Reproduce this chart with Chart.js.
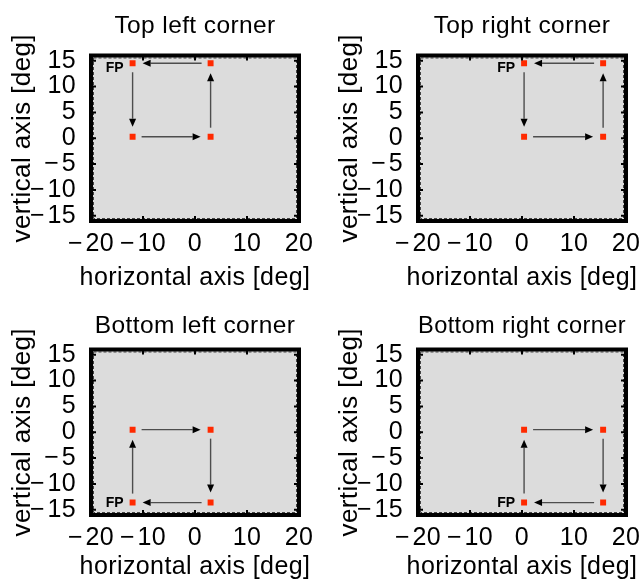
<!DOCTYPE html>
<html>
<head>
<meta charset="utf-8">
<script src="https://cdn.jsdelivr.net/npm/chart.js@4.4.1/dist/chart.umd.min.js"></script>
<style>
  html, body { margin: 0; padding: 0; background: #fff; }
  #wrap { position: relative; width: 642px; height: 583px; overflow: hidden; }
  #wrap canvas { position: absolute; }
</style>
</head>
<body>
<div id="wrap">
  <canvas id="c0" width="315" height="294" style="left:0;top:0"></canvas>
  <canvas id="c1" width="315" height="294" style="left:327px;top:0"></canvas>
  <canvas id="c2" width="315" height="289" style="left:0;top:294px"></canvas>
  <canvas id="c3" width="315" height="289" style="left:327px;top:294px"></canvas>
</div>
<script>
(function () {
    "use strict";

    var xTicks = [-20, -10, 0, 10, 20];
    var yTicks = [-15, -10, -5, 0, 5, 10, 15];
    var titles = ["Top left corner", "Top right corner", "Bottom left corner", "Bottom right corner"];
    var xTitle = "horizontal axis [deg]";
    var yTitle = "vertical axis [deg]";

    // target positions per panel, FP first, then in the order the arrows walk
    var topLeftX = [-12, -12, 3, 3];
    var topLeftY = [14.5, 0.3, 0.3, 14.5];
    var topRightX = [0.4, 0.4, 15.6, 15.6];
    var topRightY = [14.5, 0.3, 0.3, 14.5];
    var bottomLeftX = [-12, -12, 3, 3];
    var bottomLeftY = [-13.6, 0.5, 0.5, -13.6];
    var bottomRightX = [0.4, 0.4, 15.6, 15.6];
    var bottomRightY = [-13.6, 0.5, 0.5, -13.6];

    var FONT = "'Liberation Sans', Arial, Helvetica, sans-serif";

    function minusLabel(v) {
        return v < 0 ? "\u2212\u200a" + Math.abs(v) : String(v);
    }

    function drawArrow(ctx, x0, y0, x1, y1) {
        var dx = x1 - x0, dy = y1 - y0;
        var len = Math.sqrt(dx * dx + dy * dy);
        var ux = dx / len, uy = dy / len;
        var sx = x0 + ux * 9, sy = y0 + uy * 9;
        var tx = x1 - ux * 10, ty = y1 - uy * 10;
        var bx = tx - ux * 8, by = ty - uy * 8;
        ctx.strokeStyle = "#4d4d4d";
        ctx.lineWidth = 1.4;
        ctx.beginPath();
        ctx.moveTo(sx, sy);
        ctx.lineTo(bx, by);
        ctx.stroke();
        ctx.fillStyle = "#000";
        ctx.beginPath();
        ctx.moveTo(tx, ty);
        ctx.lineTo(bx - uy * 3.5, by + ux * 3.5);
        ctx.lineTo(bx + uy * 3.5, by - ux * 3.5);
        ctx.closePath();
        ctx.fill();
    }

    // gray plot area, heavy frame with inward ticks, arrows, FP tag and x title
    var panelPlugin = {
        id: "panel",
        beforeDraw: function (chart) {
            var ctx = chart.ctx, a = chart.chartArea;
            ctx.letterSpacing = "0.4px";
            ctx.save();
            ctx.fillStyle = "#dcdcdc";
            ctx.fillRect(a.left, a.top, a.right - a.left, a.bottom - a.top);
            ctx.restore();
        },
        afterDraw: function (chart, args, opts) {
            var ctx = chart.ctx, a = chart.chartArea;
            var sx = chart.scales.x, sy = chart.scales.y;
            var pts = chart.data.datasets[0].data;
            ctx.save();

            // x axis title, wider than the plot so it is drawn here unclipped
            ctx.fillStyle = "#000";
            ctx.font = "25px " + FONT;
            ctx.textAlign = "center";
            ctx.textBaseline = "middle";
            ctx.fillText(xTitle, (a.left + a.right) / 2, chart.height - 15.6);

            ctx.letterSpacing = "0px";

            // dashed inner line
            ctx.strokeStyle = "#444";
            ctx.lineWidth = 1;
            ctx.setLineDash([3, 2]);
            ctx.strokeRect(a.left + 2.5, a.top + 2.5, a.right - a.left - 5, a.bottom - a.top - 5);
            ctx.setLineDash([]);

            // inward tick marks on all four sides
            ctx.strokeStyle = "#000";
            ctx.lineWidth = 2;
            ctx.beginPath();
            xTicks.forEach(function (v) {
                var px = sx.getPixelForValue(v);
                ctx.moveTo(px, a.bottom); ctx.lineTo(px, a.bottom - 5);
                ctx.moveTo(px, a.top); ctx.lineTo(px, a.top + 5);
            });
            yTicks.forEach(function (v) {
                var py = sy.getPixelForValue(v);
                ctx.moveTo(a.left, py); ctx.lineTo(a.left + 5, py);
                ctx.moveTo(a.right, py); ctx.lineTo(a.right - 5, py);
            });
            ctx.stroke();

            // frame
            ctx.lineWidth = 4;
            ctx.strokeRect(a.left, a.top, a.right - a.left, a.bottom - a.top);

            // arrows between consecutive targets, back to FP at the end
            for (var i = 0; i < pts.length; i++) {
                var p = pts[i], q = pts[(i + 1) % pts.length];
                drawArrow(ctx,
                    sx.getPixelForValue(p.x), sy.getPixelForValue(p.y),
                    sx.getPixelForValue(q.x), sy.getPixelForValue(q.y));
            }

            // FP label next to the first target
            ctx.fillStyle = "#000";
            ctx.font = "bold 14px " + FONT;
            ctx.textAlign = "right";
            ctx.textBaseline = "middle";
            ctx.fillText("FP", sx.getPixelForValue(pts[0].x) - 9, sy.getPixelForValue(pts[0].y) + opts.fpDy);
            ctx.restore();
        }
    };

    function makePanel(id, title, xs, ys, extra) {
        var canvas = document.getElementById(id);
        var H = canvas.height;
        var points = xs.map(function (x, i) { return { x: x, y: ys[i] }; });

        return new Chart(canvas.getContext("2d"), {
            type: "scatter",
            data: {
                datasets: [{
                    data: points,
                    pointStyle: "rect",
                    pointRadius: 4.2,
                    backgroundColor: "#ff2a00",
                    borderWidth: 0
                }]
            },
            options: {
                responsive: false,
                animation: false,
                events: [],
                layout: { padding: { left: 0, right: 16, top: 0, bottom: 0 } },
                plugins: {
                    legend: { display: false },
                    tooltip: { enabled: false },
                    title: {
                        display: true,
                        text: title,
                        fullSize: false,
                        color: "#000",
                        font: { family: FONT, size: 24.5, weight: "normal", lineHeight: 1.2 },
                        // title block ends where the plot frame starts (y = 55.5)
                        padding: { top: extra.titleTop, bottom: 26.1 - extra.titleTop }
                    },
                    panel: { fpDy: extra.fpDy }
                },
                scales: {
                    x: {
                        type: "linear",
                        min: -20,
                        max: 20,
                        afterBuildTicks: function (scale) {
                            scale.ticks = xTicks.map(function (v) { return { value: v }; });
                        },
                        afterFit: function (scale) { scale.height = H - 221; },
                        grid: { display: false },
                        border: { display: false },
                        ticks: {
                            color: "#000",
                            padding: 0.5,
                            autoSkip: false,
                            maxRotation: 0,
                            font: { family: FONT, size: 25, lineHeight: 1.2 },
                            callback: minusLabel
                        },
                        title: { display: false }
                    },
                    y: {
                        type: "linear",
                        min: -16,
                        max: 16,
                        afterBuildTicks: function (scale) {
                            scale.ticks = yTicks.map(function (v) { return { value: v }; });
                        },
                        afterFit: function (scale) { scale.width = 91; },
                        grid: { display: false },
                        border: { display: false },
                        ticks: {
                            color: "#000",
                            padding: 7,
                            autoSkip: false,
                            font: { family: FONT, size: 25, lineHeight: 1.2 },
                            callback: minusLabel
                        },
                        title: {
                            display: true,
                            text: yTitle,
                            color: "#000",
                            font: { family: FONT, size: 26, lineHeight: 1.2 },
                            padding: { top: 6.8, bottom: 0 }
                        }
                    }
                }
            },
            plugins: [panelPlugin]
        });
    }

    makePanel("c0", titles[0], topLeftX, topLeftY, { titleTop: 12, fpDy: 5 });
    makePanel("c1", titles[1], topRightX, topRightY, { titleTop: 12, fpDy: 5 });
    makePanel("c2", titles[2], bottomLeftX, bottomLeftY, { titleTop: 17.5, fpDy: 1 });
    makePanel("c3", titles[3], bottomRightX, bottomRightY, { titleTop: 17.5, fpDy: 1 });
})();
</script>
</body>
</html>
